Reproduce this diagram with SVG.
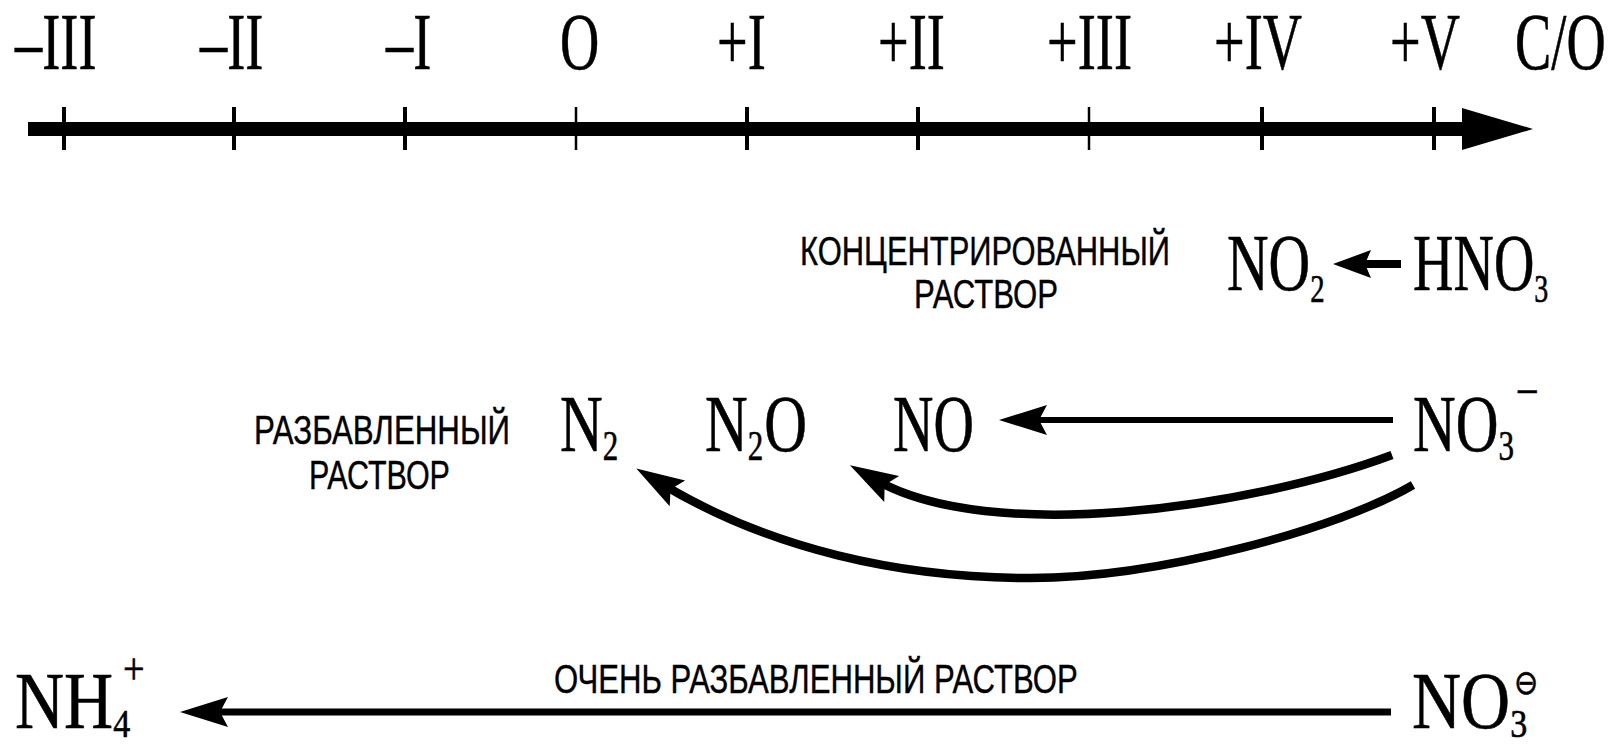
<svg xmlns="http://www.w3.org/2000/svg" width="1610" height="746" viewBox="0 0 1610 746">
<style>
.sf{font-family:"Liberation Serif","Times New Roman",serif;font-size:80px;fill:#000;stroke:#000;stroke-width:0.6}
.ss{font-family:"Liberation Sans",Arial,sans-serif;font-size:40px;fill:#000;stroke:#000;stroke-width:0.4}
.tk{stroke:#000;stroke-width:4}
.tkt{stroke:#000;stroke-width:2.5}
.ln{fill:none;stroke:#000;stroke-linecap:butt}
</style>
<defs>
<marker id="aax" markerUnits="userSpaceOnUse" viewBox="-75 -25 80 50" markerWidth="80" markerHeight="50" refX="-53" refY="0" orient="auto" overflow="visible"><path d="M0,0 L-71,-21 L-71,21 Z" fill="#000"/></marker>
<marker id="ah" markerUnits="userSpaceOnUse" viewBox="-50 -20 54 40" markerWidth="54" markerHeight="40" refX="-30" refY="0" orient="auto" overflow="visible"><path d="M0,0 L-48,-15 L-40,0 L-48,15 Z" fill="#000"/></marker>
<marker id="ahs" markerUnits="userSpaceOnUse" viewBox="-40 -16 44 32" markerWidth="44" markerHeight="32" refX="-22" refY="0" orient="auto" overflow="visible"><path d="M0,0 L-38,-14 L-32,0 L-38,14 Z" fill="#000"/></marker>
</defs>
<rect width="1610" height="746" fill="#fff"/>

<g id="axis">
<g id="ticks">
<line class="tk" x1="64" y1="107" x2="64" y2="150"/>
<line class="tk" x1="234" y1="107" x2="234" y2="150"/>
<line class="tk" x1="405" y1="107" x2="405" y2="150"/>
<line class="tkt" x1="576" y1="107" x2="576" y2="150"/>
<line class="tk" x1="747" y1="107" x2="747" y2="150"/>
<line class="tk" x1="918" y1="107" x2="918" y2="150"/>
<line class="tkt" x1="1089" y1="107" x2="1089" y2="150"/>
<line class="tk" x1="1262" y1="107" x2="1262" y2="150"/>
<line class="tk" x1="1434" y1="107" x2="1434" y2="150"/>
</g>
<g id="scale-labels">
<text class="sf" transform="translate(15,69) scale(0.68,1)">–III</text>
<text class="sf" transform="translate(200,69) scale(0.68,1)">–II</text>
<text class="sf" transform="translate(386,69) scale(0.68,1)">–I</text>
<text class="sf" transform="translate(560,69) scale(0.68,1)">O</text>
<text class="sf" transform="translate(717,69) scale(0.68,1)">+I</text>
<text class="sf" transform="translate(878,69) scale(0.68,1)">+II</text>
<text class="sf" transform="translate(1047,69) scale(0.68,1)">+III</text>
<text class="sf" transform="translate(1214,69) scale(0.68,1)">+IV</text>
<text class="sf" transform="translate(1390,69) scale(0.68,1)">+V</text>
<text class="sf" transform="translate(1515,69) scale(0.68,1)">C/O</text>
</g>
</g>

<g id="connectors">
<path id="c-axis" class="ln" d="M28,129 H1480" stroke-width="14" marker-end="url(#aax)"/>
<path id="c-hno3-no2" class="ln" d="M1401,264 H1355" stroke-width="8" marker-end="url(#ahs)"/>
<path id="c-no3-no" class="ln" d="M1393,420 H1029" stroke-width="6" marker-end="url(#ah)"/>
<path id="c-no3-n2o" class="ln" d="M1392,455 C1250,508 990,545 876,480" stroke-width="8.5" marker-end="url(#ah)"/>
<path id="c-no3-n2" class="ln" d="M1413,485 C1340,528 1160,578 1030,578 C900,578 770,549 662,484" stroke-width="8.5" marker-end="url(#ah)"/>
<path id="c-no3-nh4" class="ln" d="M1391,712 H210" stroke-width="7" marker-end="url(#ah)"/>
</g>

<g id="label-conc">
<text class="ss" transform="translate(800,265) scale(0.768,1)" textLength="481.8" lengthAdjust="spacingAndGlyphs">КОНЦЕНТРИРОВАННЫЙ</text>
<text class="ss" transform="translate(914,308) scale(0.753,1)" textLength="191.2" lengthAdjust="spacingAndGlyphs">РАСТВОР</text>
</g>
<g id="label-dil">
<text class="ss" transform="translate(254,444) scale(0.766,1)" textLength="334.3" lengthAdjust="spacingAndGlyphs">РАЗБАВЛЕННЫЙ</text>
<text class="ss" transform="translate(309,489) scale(0.737,1)" textLength="191.2" lengthAdjust="spacingAndGlyphs">РАСТВОР</text>
</g>
<g id="label-vdil">
<text class="ss" transform="translate(554,693) scale(0.762,1)" textLength="687.3" lengthAdjust="spacingAndGlyphs">ОЧЕНЬ РАЗБАВЛЕННЫЙ РАСТВОР</text>
</g>

<g id="n-NO2">
<text class="sf" transform="translate(1227,290) scale(0.72,1)">NO<tspan x="115.6" y="12" font-size="40">2</tspan></text>
</g>
<g id="n-HNO3">
<text class="sf" transform="translate(1413,290) scale(0.7,1)">HNO<tspan x="173.4" y="12" font-size="40">3</tspan></text>
</g>
<g id="n-N2">
<text class="sf" transform="translate(560,451) scale(0.74,1)">N<tspan x="57.8" y="9" font-size="42">2</tspan></text>
</g>
<g id="n-N2O">
<text class="sf" transform="translate(705,451) scale(0.74,1)">N<tspan x="57.8" y="9" font-size="42">2</tspan><tspan x="80" y="0">O</tspan></text>
</g>
<g id="n-NO">
<text class="sf" transform="translate(893,451) scale(0.7,1)">NO</text>
</g>
<g id="n-NO3-dil">
<text class="sf" transform="translate(1413,451) scale(0.74,1)">NO<tspan x="115.6" y="9" font-size="42">3</tspan><tspan x="142" y="-47" font-size="50">–</tspan></text>
</g>
<g id="n-NH4">
<text class="sf" transform="translate(15,728) scale(0.85,1)">NH<tspan x="115.6" y="9" font-size="40">4</tspan><tspan x="127" y="-44" font-size="45">+</tspan></text>
</g>
<g id="n-NO3-vdil">
<text class="sf" transform="translate(1412,728) scale(0.85,1)">NO<tspan x="115.6" y="9" font-size="40">3</tspan><tspan x="120" y="-34" font-size="34" style="font-family:'DejaVu Sans',sans-serif">⊖</tspan></text>
</g>
</svg>
